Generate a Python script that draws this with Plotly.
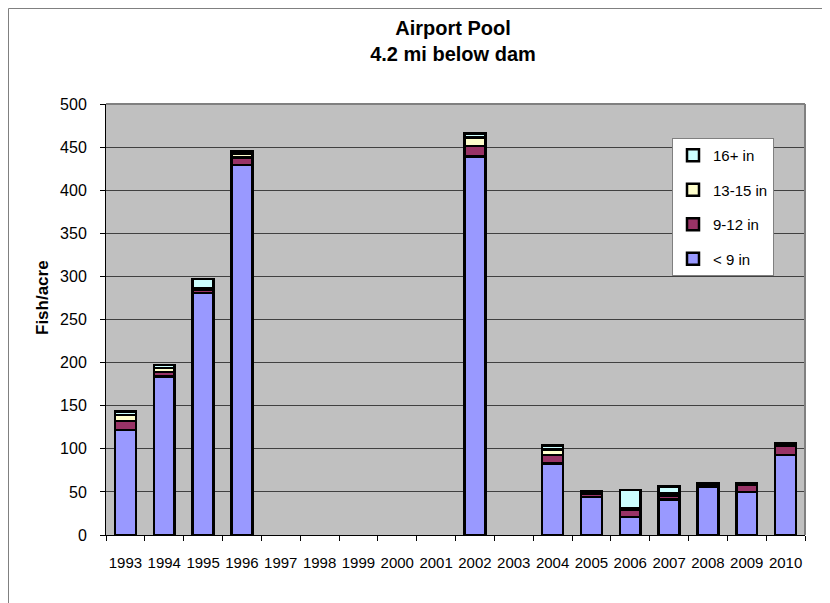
import plotly.graph_objects as go

years = ["1993", "1994", "1995", "1996", "1997", "1998", "1999", "2000", "2001",
         "2002", "2003", "2004", "2005", "2006", "2007", "2008", "2009", "2010"]
lt9 = [122, 184, 281, 429, None, None, None, None, None, 439, None, 83, 44, 21, 41, 56, 50, 93]
in9_12 = [10, 5, 3, 9, None, None, None, None, None, 12, None, 10, 4, 8, 5, 2, 8, 10]
in13_15 = [7, 5, 2, 4, None, None, None, None, None, 10, None, 6, 1, 2, 2, 1, 1, 2]
in16p = [4, 3, 11, 3, None, None, None, None, None, 5, None, 5, 2, 21, 8, 0.5, 1, 2]

series = [
    ("< 9 in", lt9, "#9999FF"),
    ("9-12 in", in9_12, "#993366"),
    ("13-15 in", in13_15, "#FFFFCC"),
    ("16+ in", in16p, "#CCFFFF"),
]

FONT = "Liberation Sans, Arial, sans-serif"

fig = go.Figure()
for i, (name, vals, color) in enumerate(series):
    fig.add_trace(go.Bar(
        x=years, y=vals, name=name, legendgroup=f"g{i}", legendrank=10 - i,
        marker=dict(color=color, line=dict(color="black", width=2.5)),
    ))

# page is offset by 8px body margin; work in page pixel coordinates
OFF = 8
W, H = 822, 595
L, R, T, B = 106 - OFF, 25, 104 - OFF, 68
pw, ph = W - L - R, H - T - B

def px_x(p):
    return (p - OFF - L) / pw

def px_y(p):
    return (H - B - (p - OFF)) / ph

fig.update_layout(
    width=W, height=H,
    margin=dict(l=L, r=R, t=T, b=B),
    paper_bgcolor="white",
    plot_bgcolor="#C0C0C0",
    barmode="stack",
    bargap=0.46,
    font=dict(family=FONT, size=15, color="black"),
    title=dict(
        text="<b>Airport Pool</b><br><b>4.2 mi below dam</b>",
        x=px_x(453), xref="paper", xanchor="center",
        y=1 - 27 / H, yref="container", yanchor="top",
        font=dict(family=FONT, size=20, color="black"),
    ),
    legend=dict(
        x=px_x(672), y=px_y(138), xanchor="left", yanchor="top",
        bgcolor="white", bordercolor="#808080", borderwidth=1,
        traceorder="grouped", tracegroupgap=12,
        font=dict(family=FONT, size=15, color="black"),
    ),
    showlegend=True,
    xaxis=dict(
        type="category", showline=True, linecolor="black", linewidth=1,
        ticks="outside", ticklen=5, tickcolor="black", tickson="boundaries",
        showgrid=False, tickfont=dict(size=15), ticklabelstandoff=14, tickangle=0,
    ),
    yaxis=dict(
        range=[0, 500], dtick=50, showline=True, linecolor="black", linewidth=1,
        ticks="outside", ticklen=5, tickcolor="black",
        showgrid=True, gridcolor="#404040", gridwidth=1,
        tickfont=dict(size=16), ticklabelstandoff=10, zeroline=False,
    ),
    annotations=[dict(
        text="<b>Fish/acre</b>", textangle=-90, x=px_x(42), y=px_y(298),
        xref="paper", yref="paper", xanchor="center", yanchor="middle", showarrow=False,
        font=dict(family=FONT, size=17, color="black"),
    )],
    shapes=[
        dict(type="rect", xref="paper", yref="paper",
             x0=px_x(8.5), x1=px_x(826), y0=px_y(640), y1=px_y(8.5),
             line=dict(color="#808080", width=1), fillcolor="rgba(0,0,0,0)", layer="below"),
        dict(type="line", xref="paper", yref="paper", x0=0, x1=1, y0=1, y1=1,
             line=dict(color="#808080", width=2)),
        dict(type="line", xref="paper", yref="paper", x0=1, x1=1, y0=0, y1=1,
             line=dict(color="#808080", width=2)),
    ],
)

fig.write_html("out.html")
